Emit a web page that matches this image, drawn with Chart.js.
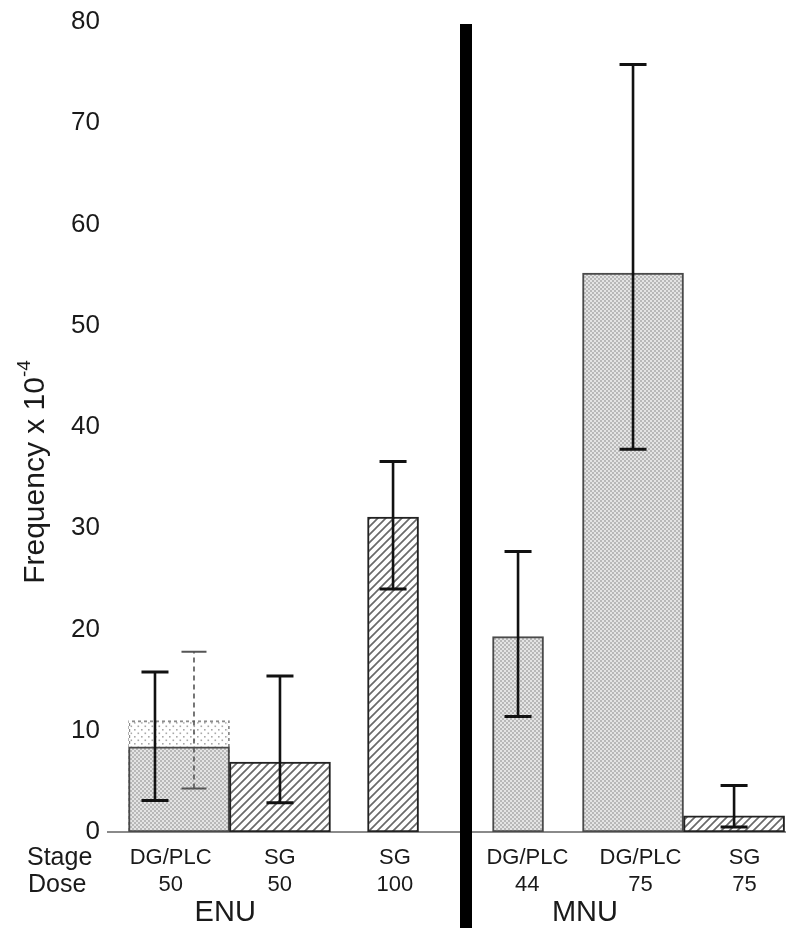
<!DOCTYPE html>
<html><head><meta charset="utf-8">
<script src="https://cdn.jsdelivr.net/npm/chart.js@4.4.1/dist/chart.umd.min.js"></script>
<style>html,body{margin:0;padding:0;background:#fff}canvas{display:block}</style>
</head><body>
<canvas id="c" width="800" height="945"></canvas>
<script>
// ---------------- data ----------------
const stages = ['DG/PLC', 'SG', 'SG', 'DG/PLC', 'DG/PLC', 'SG'];
const doses = ['50', '50', '100', '44', '75', '75'];
const agents = ['ENU', 'ENU', 'ENU', 'MNU', 'MNU', 'MNU'];
const frequency = [8.4, 6.9, 31.1, 19.3, 55.2, 1.6];
const errLow = [3.1, 2.9, 24.0, 11.4, 37.8, 0.5];
const errHigh = [15.8, 15.4, 36.6, 27.7, 75.8, 4.6];
// second (dotted) estimate for ENU DG/PLC 50
const altFrequency = [11.0];
const altLow = [4.3];
const altHigh = [17.8];
const yTicks = [0, 10, 20, 30, 40, 50, 60, 70, 80];
const groups = ['ENU', 'MNU'];
const rowTitles = ['Stage', 'Dose'];
const yTitleMain = 'Frequency x 10';
const yTitleSup = '-4';

// ---------------- layout (x axis units: one unit = one wide bar) ----------------
const barX = [0.703, 1.702, 2.821, 4.058, 5.196, 6.196];
const barWide = [true, true, false, false, true, true];
const barPattern = ['dots', 'hatch', 'hatch', 'dots', 'dots', 'hatch'];
const errX = [0.465, 1.702, 2.821, 4.058, 5.196, 6.196];
const altErrX = [0.851];
const labelX = [0.62, 1.70, 2.84, 4.15, 5.27, 6.30];
const groupX = [1.16, 4.72];
const dividerX = 3.543;
const X_MAX = 6.70;

const FONT = "'Liberation Sans', Arial, sans-serif";

const canvas = document.getElementById('c');
const ctx0 = canvas.getContext('2d');

function makePattern(w, h, draw) {
  const c = document.createElement('canvas');
  c.width = w; c.height = h;
  const g = c.getContext('2d');
  draw(g, w, h);
  return ctx0.createPattern(c, 'repeat');
}
const stipple = makePattern(4, 4, (g) => {
  g.fillStyle = '#e4e4e4'; g.fillRect(0, 0, 4, 4);
  g.fillStyle = '#b8b8b8'; g.fillRect(0, 0, 2, 2); g.fillRect(2, 2, 2, 2);
});
const hatch = makePattern(8, 8, (g) => {
  g.fillStyle = '#ffffff'; g.fillRect(0, 0, 8, 8);
  g.strokeStyle = '#6a6a6a'; g.lineWidth = 1.7;
  g.beginPath();
  g.moveTo(-1, 9); g.lineTo(9, -1);
  g.moveTo(-1, 1); g.lineTo(1, -1);
  g.moveTo(7, 9); g.lineTo(9, 7);
  g.stroke();
});
const sparseDots = makePattern(7, 7, (g) => {
  g.fillStyle = '#ffffff'; g.fillRect(0, 0, 7, 7);
  g.fillStyle = '#a8a8a8';
  g.fillRect(1, 1, 1.6, 1.6); g.fillRect(4.5, 4.5, 1.6, 1.6);
});
const dashBorder = makePattern(6, 6, (g) => {
  g.fillStyle = '#8c8c8c'; g.fillRect(0, 0, 3, 3); g.fillRect(3, 3, 3, 3);
});

function buildBars(wide) {
  const idx = frequency.map((_, i) => i).filter(i => barWide[i] === wide);
  return {
    data: idx.map(i => ({ x: barX[i], y: frequency[i] })),
    backgroundColor: idx.map(i => barPattern[i] === 'dots' ? stipple : hatch),
    borderColor: idx.map(i => barPattern[i] === 'dots' ? '#4a4a4a' : '#222222'),
    borderWidth: 2,
    borderSkipped: false,
    barThickness: wide ? 101 : 51,
    grouped: false
  };
}

const decor = {
  id: 'decor',
  afterDatasetsDraw(chart) {
    const { ctx, scales: { x, y } } = chart;
    const drawErr = (xv, lo, hi, o) => {
      const px = x.getPixelForValue(xv);
      const pl = y.getPixelForValue(lo), ph = y.getPixelForValue(hi);
      ctx.save();
      ctx.strokeStyle = o.color; ctx.lineCap = 'butt';
      ctx.lineWidth = o.width;
      ctx.setLineDash(o.dash || []);
      ctx.beginPath(); ctx.moveTo(px, pl); ctx.lineTo(px, ph); ctx.stroke();
      ctx.setLineDash([]);
      ctx.lineWidth = o.capWidth;
      ctx.beginPath();
      ctx.moveTo(px - o.cap, ph); ctx.lineTo(px + o.cap, ph);
      ctx.moveTo(px - o.cap, pl); ctx.lineTo(px + o.cap, pl);
      ctx.stroke();
      ctx.restore();
    };
    altErrX.forEach((xv, i) => drawErr(xv, altLow[i], altHigh[i], { color: '#555', width: 1.6, dash: [5, 4], capWidth: 2, cap: 12.5 }));
    errX.forEach((xv, i) => drawErr(xv, errLow[i], errHigh[i], { color: '#111', width: 2.6, capWidth: 3, cap: 13.5 }));
  },
  afterDraw(chart) {
    const { ctx, scales: { x, y } } = chart;
    ctx.save();
    // divider
    const dx = x.getPixelForValue(dividerX);
    const top = y.getPixelForValue(80) + 2;
    ctx.fillStyle = '#000';
    ctx.fillRect(dx - 6, top, 12, 928 - top);
    // row titles
    ctx.fillStyle = '#1a1a1a';
    ctx.font = `25px ${FONT}`;
    ctx.textAlign = 'left'; ctx.textBaseline = 'middle';
    ctx.fillText(rowTitles[0], 27, y.bottom + 26);
    ctx.fillText(rowTitles[1], 28, y.bottom + 53);
    // group labels
    ctx.font = `29px ${FONT}`;
    ctx.textAlign = 'center';
    groups.forEach((g, i) => ctx.fillText(g, x.getPixelForValue(groupX[i]), y.bottom + 81));
    // y title with superscript
    ctx.translate(36, (y.top + y.bottom) / 2 + 45);
    ctx.rotate(-Math.PI / 2);
    ctx.textAlign = 'left';
    ctx.font = `30px ${FONT}`;
    const w1 = ctx.measureText(yTitleMain).width;
    ctx.font = `19px ${FONT}`;
    const w2 = ctx.measureText(yTitleSup).width;
    const start = -(w1 + w2) / 2;
    ctx.font = `30px ${FONT}`;
    ctx.fillText(yTitleMain, start, 0);
    ctx.font = `19px ${FONT}`;
    ctx.fillText(yTitleSup, start + w1, -11);
    ctx.restore();
  }
};

new Chart(canvas, {
  type: 'bar',
  data: {
    datasets: [
      buildBars(true),
      buildBars(false),
      {
        data: altFrequency.map((v, i) => ({ x: barX[0], y: v })),
        backgroundColor: sparseDots,
        borderColor: dashBorder,
        borderWidth: 2,
        borderSkipped: false,
        barThickness: 101,
        grouped: false
      }
    ]
  },
  options: {
    responsive: false,
    animation: false,
    devicePixelRatio: 1,
    layout: { padding: { top: 22, right: 15, left: 0, bottom: 0 } },
    plugins: { legend: { display: false }, tooltip: { enabled: false } },
    scales: {
      x: {
        type: 'linear', min: 0, max: X_MAX, offset: false,
        grid: { display: false, drawTicks: false, offset: false },
        border: { display: true, color: '#8a8a8a', width: 2 },
        afterBuildTicks: s => { s.ticks = labelX.map(v => ({ value: v })); },
        ticks: {
          autoSkip: false, maxRotation: 0, minRotation: 0, padding: 12,
          color: '#1a1a1a', font: { family: FONT, size: 22, lineHeight: 1.23 },
          callback: (v, i) => [stages[i], doses[i]]
        },
        afterFit: s => { s.height = 113; }
      },
      y: {
        min: 0, max: 80,
        afterBuildTicks: s => { s.ticks = yTicks.map(v => ({ value: v })); },
        grid: { display: false, drawTicks: false },
        border: { display: false },
        ticks: { color: '#1a1a1a', padding: 8, font: { family: FONT, size: 26, lineHeight: 1.0 } },
        afterFit: s => { s.width = 108; }
      }
    }
  },
  plugins: [decor]
});
</script>
</body></html>
